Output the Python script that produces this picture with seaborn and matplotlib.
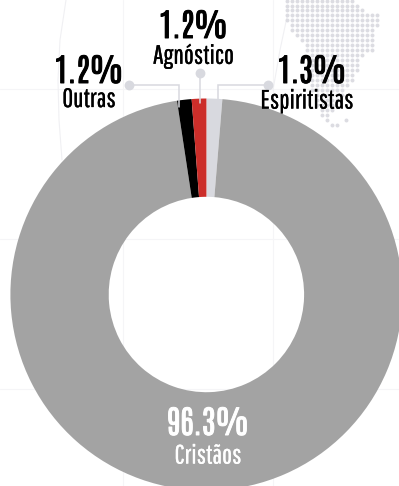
import matplotlib
matplotlib.use("Agg")
import matplotlib.pyplot as plt
import matplotlib.patheffects as pe
import seaborn as sns

# Religious affiliation shares
categories = ["Espiritistas", "Cristãos", "Outras", "Agnóstico"]
shares = [1.3, 96.3, 1.2, 1.2]
slice_colors = ["#d8d9df", "#a3a3a3", "#000000", "#cc2e2a"]

# Dotted map in the backdrop: row height, then first and last dot column
map_rows = [
    (1, 287, 352), (6, 287, 357), (10, 287, 362), (15, 287, 377),
    (20, 287, 377), (25, 292, 377), (30, 292, 372), (35, 297, 372),
    (40, 302, 372), (45, 307, 372), (50, 307, 372), (55, 312, 362),
    (60, 312, 357), (65, 312, 357), (70, 312, 357), (75, 312, 352),
    (80, 312, 352), (85, 312, 347), (90, 312, 342), (95, 317, 342),
    (100, 317, 337), (105, 317, 332), (110, 322, 332), (115, 322, 327),
    (120, 327, 327), (125, 332, 337),
]
map_extra_dots = [(346, 120)]

sns.set_theme(style="white", rc={"figure.facecolor": "white", "axes.facecolor": "white"})
plt.rcParams["font.family"] = ["Antonio", "Oswald", "DejaVu Sans"]

W, H = 399, 486
fig = plt.figure(figsize=(W / 100, H / 100), dpi=100)
ax = fig.add_axes([0, 0, 1, 1])


def flip(y):
    return H - y


# Faint backdrop grid
grid_color = "#f5f5f7"
for x in (122.5, 273):
    ax.plot([x, x], [0, H], color=grid_color, lw=0.8, zorder=0)
for y in (89, 239.5, 389):
    ax.plot([0, W], [flip(y), flip(y)], color=grid_color, lw=0.8, zorder=0)
ax.plot([66, 60, 58, 59, 62], [flip(0), flip(40), flip(80), flip(120), flip(160)],
        color="#f0f0f3", lw=0.8, zorder=0)
ax.plot([287, 280, 273], [flip(17), flip(50), flip(90)], color="#f0f0f3", lw=0.8, zorder=0)

# Dotted map
dots_x, dots_y = [], []
for row, first, last in map_rows:
    for col in range(first, last + 1, 5):
        dots_x.append(col)
        dots_y.append(flip(row))
for col, row in map_extra_dots:
    dots_x.append(col)
    dots_y.append(flip(row))
ax.scatter(dots_x, dots_y, s=8, color="#dcdce2", linewidths=0, zorder=1)

# Donut
ax.pie(shares, colors=slice_colors, startangle=90, counterclock=False,
       center=(206.4, flip(294.5)), radius=196,
       wedgeprops={"width": 98.3, "linewidth": 0}, normalize=True)
for patch in ax.patches:
    patch.set_zorder(2)

# Leader lines with their end dots
leader = "#d8d9df"
paths = [
    ([128.5, 179, 179], [85.5, 85.5, 107]),
    ([199.5, 199.5], [73, 103]),
    ([268, 218, 218], [85.5, 85.5, 99]),
]
for xs, ys in paths:
    ax.plot(xs, [flip(v) for v in ys], color=leader, lw=1.1, zorder=3, solid_joinstyle="miter")
    ax.scatter(xs[0], flip(ys[0]), s=50, color=leader, linewidths=0, zorder=3)

# Label anchors: x, value y, name y, colour
label_layout = {
    "Outras": (89, 71, 99.5, "black"),
    "Agnóstico": (193.5, 26, 56, "black"),
    "Espiritistas": (312, 71, 101, "black"),
    "Cristãos": (208, 423, 456, "white"),
}
for name, share in zip(categories, shares):
    x, y_value, y_name, color = label_layout[name]
    ax.text(x, flip(y_value), f"{share}%", fontsize=23, color=color,
            ha="center", va="center", zorder=4,
            path_effects=[pe.withStroke(linewidth=0.7, foreground=color)])
    x_name = 307 if name == "Espiritistas" else x
    ax.text(x_name, flip(y_name), name, fontsize=19, color=color,
            family=["Pathway Gothic One", "DejaVu Sans"],
            ha="center", va="center", zorder=4,
            path_effects=[pe.withStroke(linewidth=0.2, foreground=color)])

ax.set_xlim(0, W)
ax.set_ylim(0, H)
ax.set_aspect("equal")
ax.axis("off")
fig.savefig("out.png", dpi=100)
